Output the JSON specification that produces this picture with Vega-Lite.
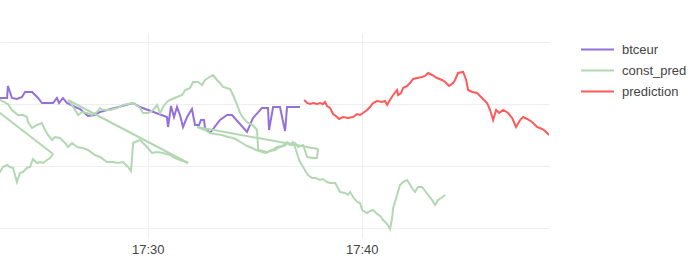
{
"$schema": "https://vega.github.io/schema/vega-lite/v6.json",
"width": 549, "height": 205,
"autosize": "none",
"padding": {"left": 0, "top": 33, "right": 148, "bottom": 40},
"config": {"view": {"stroke": null}, "font": "Liberation Sans"},
"data": {"values": [
{"s":"btceur","t":23.10,"v":8665.2},{"s":"btceur","t":23.43,"v":8665.2},{"s":"btceur","t":23.47,"v":8671.2},{"s":"btceur","t":23.66,"v":8665.2},{"s":"btceur","t":23.89,"v":8664.7},{"s":"btceur","t":24.13,"v":8665.7},{"s":"btceur","t":24.27,"v":8668.2},{"s":"btceur","t":24.60,"v":8668.2},{"s":"btceur","t":24.88,"v":8665.2},{"s":"btceur","t":25.06,"v":8662.7},{"s":"btceur","t":25.58,"v":8662.7},{"s":"btceur","t":25.76,"v":8665.2},{"s":"btceur","t":25.86,"v":8662.7},{"s":"btceur","t":26.04,"v":8665.2},{"s":"btceur","t":26.23,"v":8662.7},{"s":"btceur","t":26.61,"v":8660.7},{"s":"btceur","t":26.84,"v":8659.7},{"s":"btceur","t":27.21,"v":8656.2},{"s":"btceur","t":27.54,"v":8656.7},{"s":"btceur","t":27.77,"v":8658.2},{"s":"btceur","t":29.32,"v":8662.7},{"s":"btceur","t":29.64,"v":8660.7},{"s":"btceur","t":30.90,"v":8655.7},{"s":"btceur","t":30.95,"v":8650.7},{"s":"btceur","t":31.09,"v":8661.2},{"s":"btceur","t":31.23,"v":8655.7},{"s":"btceur","t":31.37,"v":8660.7},{"s":"btceur","t":31.51,"v":8656.7},{"s":"btceur","t":31.65,"v":8650.7},{"s":"btceur","t":31.84,"v":8655.7},{"s":"btceur","t":32.07,"v":8659.7},{"s":"btceur","t":32.21,"v":8651.7},{"s":"btceur","t":32.40,"v":8651.7},{"s":"btceur","t":32.49,"v":8654.2},{"s":"btceur","t":32.63,"v":8654.2},{"s":"btceur","t":32.68,"v":8650.2},{"s":"btceur","t":32.91,"v":8647.7},{"s":"btceur","t":33.38,"v":8654.2},{"s":"btceur","t":33.71,"v":8656.7},{"s":"btceur","t":33.94,"v":8656.7},{"s":"btceur","t":34.64,"v":8648.2},{"s":"btceur","t":34.92,"v":8655.2},{"s":"btceur","t":35.34,"v":8660.2},{"s":"btceur","t":35.62,"v":8660.2},{"s":"btceur","t":35.67,"v":8649.2},{"s":"btceur","t":35.86,"v":8660.7},{"s":"btceur","t":36.18,"v":8660.7},{"s":"btceur","t":36.42,"v":8648.7},{"s":"btceur","t":36.51,"v":8660.7},{"s":"btceur","t":37.12,"v":8660.7},
{"s":"prediction","t":37.31,"v":8664.2},{"s":"prediction","t":37.45,"v":8662.7},{"s":"prediction","t":37.59,"v":8662.2},{"s":"prediction","t":37.73,"v":8662.7},{"s":"prediction","t":37.91,"v":8662.2},{"s":"prediction","t":38.05,"v":8662.7},{"s":"prediction","t":38.19,"v":8662.2},{"s":"prediction","t":38.29,"v":8663.2},{"s":"prediction","t":38.38,"v":8661.2},{"s":"prediction","t":38.52,"v":8660.2},{"s":"prediction","t":38.66,"v":8657.2},{"s":"prediction","t":38.85,"v":8655.7},{"s":"prediction","t":38.94,"v":8654.7},{"s":"prediction","t":39.13,"v":8655.7},{"s":"prediction","t":39.36,"v":8655.2},{"s":"prediction","t":39.60,"v":8655.7},{"s":"prediction","t":39.78,"v":8657.2},{"s":"prediction","t":39.92,"v":8656.7},{"s":"prediction","t":40.06,"v":8657.7},{"s":"prediction","t":40.25,"v":8659.2},{"s":"prediction","t":40.39,"v":8660.7},{"s":"prediction","t":40.53,"v":8662.7},{"s":"prediction","t":40.72,"v":8663.7},{"s":"prediction","t":40.95,"v":8663.2},{"s":"prediction","t":41.09,"v":8663.7},{"s":"prediction","t":41.19,"v":8661.7},{"s":"prediction","t":41.32,"v":8664.2},{"s":"prediction","t":41.47,"v":8666.7},{"s":"prediction","t":41.65,"v":8669.2},{"s":"prediction","t":41.70,"v":8666.7},{"s":"prediction","t":41.84,"v":8667.7},{"s":"prediction","t":41.93,"v":8670.2},{"s":"prediction","t":42.12,"v":8671.2},{"s":"prediction","t":42.26,"v":8672.7},{"s":"prediction","t":42.40,"v":8674.7},{"s":"prediction","t":42.59,"v":8675.2},{"s":"prediction","t":42.82,"v":8675.7},{"s":"prediction","t":42.96,"v":8676.2},{"s":"prediction","t":43.10,"v":8677.7},{"s":"prediction","t":43.29,"v":8676.7},{"s":"prediction","t":43.52,"v":8675.2},{"s":"prediction","t":43.75,"v":8674.2},{"s":"prediction","t":43.90,"v":8673.2},{"s":"prediction","t":44.08,"v":8671.2},{"s":"prediction","t":44.27,"v":8672.7},{"s":"prediction","t":44.36,"v":8674.2},{"s":"prediction","t":44.50,"v":8677.7},{"s":"prediction","t":44.74,"v":8678.2},{"s":"prediction","t":44.88,"v":8674.2},{"s":"prediction","t":44.97,"v":8669.2},{"s":"prediction","t":45.16,"v":8668.2},{"s":"prediction","t":45.39,"v":8667.7},{"s":"prediction","t":45.62,"v":8665.2},{"s":"prediction","t":45.86,"v":8662.7},{"s":"prediction","t":46.00,"v":8659.2},{"s":"prediction","t":46.14,"v":8654.2},{"s":"prediction","t":46.28,"v":8659.2},{"s":"prediction","t":46.42,"v":8657.7},{"s":"prediction","t":46.61,"v":8659.2},{"s":"prediction","t":46.84,"v":8657.7},{"s":"prediction","t":47.03,"v":8655.2},{"s":"prediction","t":47.21,"v":8650.7},{"s":"prediction","t":47.40,"v":8654.2},{"s":"prediction","t":47.54,"v":8655.7},{"s":"prediction","t":47.73,"v":8654.7},{"s":"prediction","t":47.96,"v":8653.2},{"s":"prediction","t":48.19,"v":8650.7},{"s":"prediction","t":48.43,"v":8649.7},{"s":"prediction","t":48.57,"v":8648.7},{"s":"prediction","t":48.75,"v":8646.7},
{"s":"const_pred","g":"a","t":22.63,"v":8629.2},{"s":"const_pred","g":"a","t":23.10,"v":8628.2},{"s":"const_pred","g":"a","t":23.24,"v":8630.7},{"s":"const_pred","g":"a","t":23.43,"v":8631.7},{"s":"const_pred","g":"a","t":23.57,"v":8630.7},{"s":"const_pred","g":"a","t":23.71,"v":8630.2},{"s":"const_pred","g":"a","t":23.80,"v":8626.7},{"s":"const_pred","g":"a","t":23.89,"v":8623.2},{"s":"const_pred","g":"a","t":24.03,"v":8627.7},{"s":"const_pred","g":"a","t":24.17,"v":8628.2},{"s":"const_pred","g":"a","t":24.36,"v":8630.2},{"s":"const_pred","g":"a","t":24.50,"v":8630.7},{"s":"const_pred","g":"a","t":24.64,"v":8634.7},{"s":"const_pred","g":"a","t":24.83,"v":8632.7},{"s":"const_pred","g":"a","t":24.97,"v":8633.2},{"s":"const_pred","g":"a","t":25.11,"v":8632.7},{"s":"const_pred","g":"a","t":25.30,"v":8634.2},{"s":"const_pred","g":"a","t":25.44,"v":8635.2},{"s":"const_pred","g":"a","t":25.58,"v":8637.2},
{"s":"const_pred","g":"b","t":22.17,"v":8665.45},{"s":"const_pred","g":"b","t":25.58,"v":8637.2},
{"s":"const_pred","g":"c","t":22.17,"v":8665.45},{"s":"const_pred","g":"c","t":23.10,"v":8664.2},{"s":"const_pred","g":"c","t":23.47,"v":8662.2},{"s":"const_pred","g":"c","t":23.66,"v":8659.2},{"s":"const_pred","g":"c","t":23.94,"v":8656.7},{"s":"const_pred","g":"c","t":24.17,"v":8656.7},{"s":"const_pred","g":"c","t":24.36,"v":8655.7},{"s":"const_pred","g":"c","t":24.41,"v":8653.2},{"s":"const_pred","g":"c","t":24.60,"v":8650.2},{"s":"const_pred","g":"c","t":24.83,"v":8651.7},{"s":"const_pred","g":"c","t":25.06,"v":8652.7},{"s":"const_pred","g":"c","t":25.20,"v":8649.2},{"s":"const_pred","g":"c","t":25.34,"v":8646.7},{"s":"const_pred","g":"c","t":25.53,"v":8644.2},{"s":"const_pred","g":"c","t":25.67,"v":8645.7},{"s":"const_pred","g":"c","t":25.90,"v":8645.2},{"s":"const_pred","g":"c","t":26.14,"v":8642.7},{"s":"const_pred","g":"c","t":26.28,"v":8640.7},{"s":"const_pred","g":"c","t":26.47,"v":8642.7},{"s":"const_pred","g":"c","t":26.70,"v":8640.7},{"s":"const_pred","g":"c","t":26.98,"v":8640.2},{"s":"const_pred","g":"c","t":27.21,"v":8639.2},{"s":"const_pred","g":"c","t":27.54,"v":8636.7},{"s":"const_pred","g":"c","t":27.77,"v":8635.7},{"s":"const_pred","g":"c","t":28.10,"v":8633.2},{"s":"const_pred","g":"c","t":28.38,"v":8633.2},{"s":"const_pred","g":"c","t":28.61,"v":8632.7},{"s":"const_pred","g":"c","t":28.85,"v":8633.2},{"s":"const_pred","g":"c","t":29.08,"v":8630.7},{"s":"const_pred","g":"c","t":29.22,"v":8628.7},{"s":"const_pred","g":"c","t":29.32,"v":8642.7},{"s":"const_pred","g":"c","t":29.41,"v":8643.2},{"s":"const_pred","g":"c","t":29.64,"v":8644.2},{"s":"const_pred","g":"c","t":29.97,"v":8640.7},{"s":"const_pred","g":"c","t":30.20,"v":8637.7},{"s":"const_pred","g":"c","t":30.44,"v":8638.2},{"s":"const_pred","g":"c","t":30.72,"v":8637.7},{"s":"const_pred","g":"c","t":31.04,"v":8636.7},{"s":"const_pred","g":"c","t":31.28,"v":8635.2},{"s":"const_pred","g":"c","t":31.51,"v":8634.2},{"s":"const_pred","g":"c","t":31.89,"v":8632.7},
{"s":"const_pred","g":"d","t":26.28,"v":8664.2},{"s":"const_pred","g":"d","t":31.89,"v":8632.7},
{"s":"const_pred","g":"e","t":26.28,"v":8664.2},{"s":"const_pred","g":"e","t":26.37,"v":8663.2},{"s":"const_pred","g":"e","t":26.61,"v":8659.2},{"s":"const_pred","g":"e","t":26.75,"v":8656.7},{"s":"const_pred","g":"e","t":26.93,"v":8658.2},{"s":"const_pred","g":"e","t":27.17,"v":8657.7},{"s":"const_pred","g":"e","t":27.40,"v":8656.7},{"s":"const_pred","g":"e","t":27.63,"v":8658.2},{"s":"const_pred","g":"e","t":27.77,"v":8660.2},{"s":"const_pred","g":"e","t":27.91,"v":8659.2},{"s":"const_pred","g":"e","t":28.24,"v":8659.2},{"s":"const_pred","g":"e","t":28.57,"v":8660.2},{"s":"const_pred","g":"e","t":28.85,"v":8661.7},{"s":"const_pred","g":"e","t":29.08,"v":8662.2},{"s":"const_pred","g":"e","t":29.32,"v":8662.7},{"s":"const_pred","g":"e","t":29.64,"v":8660.2},{"s":"const_pred","g":"e","t":29.78,"v":8657.7},{"s":"const_pred","g":"e","t":30.02,"v":8657.7},{"s":"const_pred","g":"e","t":30.25,"v":8659.2},{"s":"const_pred","g":"e","t":30.44,"v":8661.7},{"s":"const_pred","g":"e","t":30.58,"v":8657.7},{"s":"const_pred","g":"e","t":30.72,"v":8660.7},{"s":"const_pred","g":"e","t":30.90,"v":8663.2},{"s":"const_pred","g":"e","t":31.04,"v":8664.2},{"s":"const_pred","g":"e","t":31.37,"v":8665.7},{"s":"const_pred","g":"e","t":31.61,"v":8666.7},{"s":"const_pred","g":"e","t":31.75,"v":8669.2},{"s":"const_pred","g":"e","t":31.98,"v":8670.2},{"s":"const_pred","g":"e","t":32.12,"v":8673.2},{"s":"const_pred","g":"e","t":32.35,"v":8673.2},{"s":"const_pred","g":"e","t":32.54,"v":8671.7},{"s":"const_pred","g":"e","t":32.68,"v":8674.2},{"s":"const_pred","g":"e","t":32.82,"v":8675.2},{"s":"const_pred","g":"e","t":33.05,"v":8676.7},{"s":"const_pred","g":"e","t":33.24,"v":8674.2},{"s":"const_pred","g":"e","t":33.38,"v":8672.7},{"s":"const_pred","g":"e","t":33.52,"v":8670.7},{"s":"const_pred","g":"e","t":33.85,"v":8669.7},{"s":"const_pred","g":"e","t":33.99,"v":8666.7},{"s":"const_pred","g":"e","t":34.18,"v":8661.7},{"s":"const_pred","g":"e","t":34.32,"v":8657.7},{"s":"const_pred","g":"e","t":34.46,"v":8655.2},{"s":"const_pred","g":"e","t":34.69,"v":8652.7},{"s":"const_pred","g":"e","t":34.92,"v":8651.7},{"s":"const_pred","g":"e","t":35.11,"v":8649.2},{"s":"const_pred","g":"e","t":35.16,"v":8639.2},{"s":"const_pred","g":"e","t":35.39,"v":8638.7},{"s":"const_pred","g":"e","t":35.58,"v":8638.2},{"s":"const_pred","g":"e","t":35.81,"v":8639.2},{"s":"const_pred","g":"e","t":36.04,"v":8640.7},{"s":"const_pred","g":"e","t":36.28,"v":8641.2},{"s":"const_pred","g":"e","t":36.51,"v":8643.2},{"s":"const_pred","g":"e","t":36.65,"v":8641.7},{"s":"const_pred","g":"e","t":36.79,"v":8643.2},{"s":"const_pred","g":"e","t":36.93,"v":8639.2},{"s":"const_pred","g":"e","t":37.03,"v":8635.7},{"s":"const_pred","g":"e","t":37.12,"v":8633.2},{"s":"const_pred","g":"e","t":37.26,"v":8630.7},{"s":"const_pred","g":"e","t":37.40,"v":8628.2},{"s":"const_pred","g":"e","t":37.49,"v":8626.7},{"s":"const_pred","g":"e","t":37.68,"v":8625.2},{"s":"const_pred","g":"e","t":37.87,"v":8625.2},{"s":"const_pred","g":"e","t":38.05,"v":8624.2},{"s":"const_pred","g":"e","t":38.19,"v":8624.7},{"s":"const_pred","g":"e","t":38.38,"v":8623.2},{"s":"const_pred","g":"e","t":38.52,"v":8622.7},{"s":"const_pred","g":"e","t":38.76,"v":8622.7},{"s":"const_pred","g":"e","t":38.99,"v":8618.2},{"s":"const_pred","g":"e","t":39.22,"v":8617.7},{"s":"const_pred","g":"e","t":39.36,"v":8616.7},{"s":"const_pred","g":"e","t":39.46,"v":8618.2},{"s":"const_pred","g":"e","t":39.60,"v":8615.7},{"s":"const_pred","g":"e","t":39.78,"v":8613.2},{"s":"const_pred","g":"e","t":39.92,"v":8612.7},{"s":"const_pred","g":"e","t":40.02,"v":8609.2},{"s":"const_pred","g":"e","t":40.25,"v":8607.7},{"s":"const_pred","g":"e","t":40.39,"v":8608.7},{"s":"const_pred","g":"e","t":40.53,"v":8609.2},{"s":"const_pred","g":"e","t":40.72,"v":8607.2},{"s":"const_pred","g":"e","t":40.86,"v":8606.2},{"s":"const_pred","g":"e","t":41.00,"v":8604.2},{"s":"const_pred","g":"e","t":41.19,"v":8602.2},{"s":"const_pred","g":"e","t":41.32,"v":8599.7},{"s":"const_pred","g":"e","t":41.42,"v":8605.2},{"s":"const_pred","g":"e","t":41.47,"v":8610.2},{"s":"const_pred","g":"e","t":41.65,"v":8616.7},{"s":"const_pred","g":"e","t":41.79,"v":8621.7},{"s":"const_pred","g":"e","t":41.93,"v":8623.2},{"s":"const_pred","g":"e","t":42.12,"v":8624.2},{"s":"const_pred","g":"e","t":42.21,"v":8622.7},{"s":"const_pred","g":"e","t":42.35,"v":8620.2},{"s":"const_pred","g":"e","t":42.49,"v":8618.2},{"s":"const_pred","g":"e","t":42.63,"v":8620.7},{"s":"const_pred","g":"e","t":42.82,"v":8620.7},{"s":"const_pred","g":"e","t":42.96,"v":8618.7},{"s":"const_pred","g":"e","t":43.10,"v":8616.7},{"s":"const_pred","g":"e","t":43.29,"v":8614.2},{"s":"const_pred","g":"e","t":43.43,"v":8611.7},{"s":"const_pred","g":"e","t":43.57,"v":8614.2},{"s":"const_pred","g":"e","t":43.71,"v":8615.2},{"s":"const_pred","g":"e","t":43.90,"v":8616.7},
{"s":"const_pred","g":"f","t":32.31,"v":8650.7},{"s":"const_pred","g":"f","t":32.68,"v":8649.2},{"s":"const_pred","g":"f","t":32.91,"v":8647.7},{"s":"const_pred","g":"f","t":33.15,"v":8647.2},{"s":"const_pred","g":"f","t":33.47,"v":8646.7},{"s":"const_pred","g":"f","t":33.75,"v":8645.7},{"s":"const_pred","g":"f","t":33.99,"v":8645.2},{"s":"const_pred","g":"f","t":34.18,"v":8644.2},{"s":"const_pred","g":"f","t":34.41,"v":8642.7},{"s":"const_pred","g":"f","t":34.64,"v":8641.2},{"s":"const_pred","g":"f","t":34.88,"v":8640.2},{"s":"const_pred","g":"f","t":35.06,"v":8639.2},{"s":"const_pred","g":"f","t":35.34,"v":8638.2},{"s":"const_pred","g":"f","t":35.53,"v":8637.7},{"s":"const_pred","g":"f","t":35.72,"v":8638.7},{"s":"const_pred","g":"f","t":35.95,"v":8639.2},{"s":"const_pred","g":"f","t":36.18,"v":8640.7},{"s":"const_pred","g":"f","t":36.37,"v":8641.2},{"s":"const_pred","g":"f","t":36.56,"v":8642.7},{"s":"const_pred","g":"f","t":36.75,"v":8641.7},{"s":"const_pred","g":"f","t":36.89,"v":8642.7},{"s":"const_pred","g":"f","t":37.03,"v":8640.7},{"s":"const_pred","g":"f","t":37.26,"v":8641.7},{"s":"const_pred","g":"f","t":37.45,"v":8635.7},{"s":"const_pred","g":"f","t":37.73,"v":8635.2},{"s":"const_pred","g":"f","t":37.91,"v":8635.2},{"s":"const_pred","g":"f","t":37.96,"v":8639.7},
{"s":"const_pred","g":"g","t":32.31,"v":8650.7},{"s":"const_pred","g":"g","t":37.96,"v":8639.7}
]},
"encoding": {
  "x": {"field": "t", "type": "quantitative", "scale": {"domain": [23.10, 48.75], "nice": false, "zero": false},
        "axis": {"title": null, "values": [30, 40], "labelExpr": "'17:' + datum.value", "grid": true, "gridColor": "#eeeeee", "domain": false, "ticks": false, "labelFont": "Liberation Sans", "labelFontSize": 13, "labelColor": "#444444", "labelPadding": 5}},
  "y": {"field": "v", "type": "quantitative", "scale": {"domain": [8595.2, 8697.7], "nice": false, "zero": false},
        "axis": {"title": null, "values": [8600, 8631, 8662, 8693], "labels": false, "grid": true, "gridColor": "#eeeeee", "domain": false, "ticks": false}},
  "color": {"field": "s", "type": "nominal",
            "scale": {"domain": ["btceur", "const_pred", "prediction"], "range": ["#9370db", "#b2d8b2", "#ff5a5a"]},
            "legend": {"title": null, "orient": "none", "legendX": 580, "legendY": 6, "symbolType": "stroke", "symbolSize": 1089, "symbolStrokeWidth": 2, "clipHeight": 21, "labelFont": "Liberation Sans", "labelFontSize": 13, "labelColor": "#444444", "labelOffset": 7, "rowPadding": 0, "padding": 0}}
},
"layer": [
  {"transform": [{"filter": "datum.s == 'btceur'"}], "mark": {"type": "line", "strokeWidth": 2, "clip": true}},
  {"transform": [{"filter": "datum.s == 'const_pred'"}], "mark": {"type": "line", "strokeWidth": 2, "clip": true}, "encoding": {"detail": {"field": "g", "type": "nominal"}}},
  {"transform": [{"filter": "datum.s == 'prediction'"}], "mark": {"type": "line", "strokeWidth": 2, "clip": true}}
]
}
